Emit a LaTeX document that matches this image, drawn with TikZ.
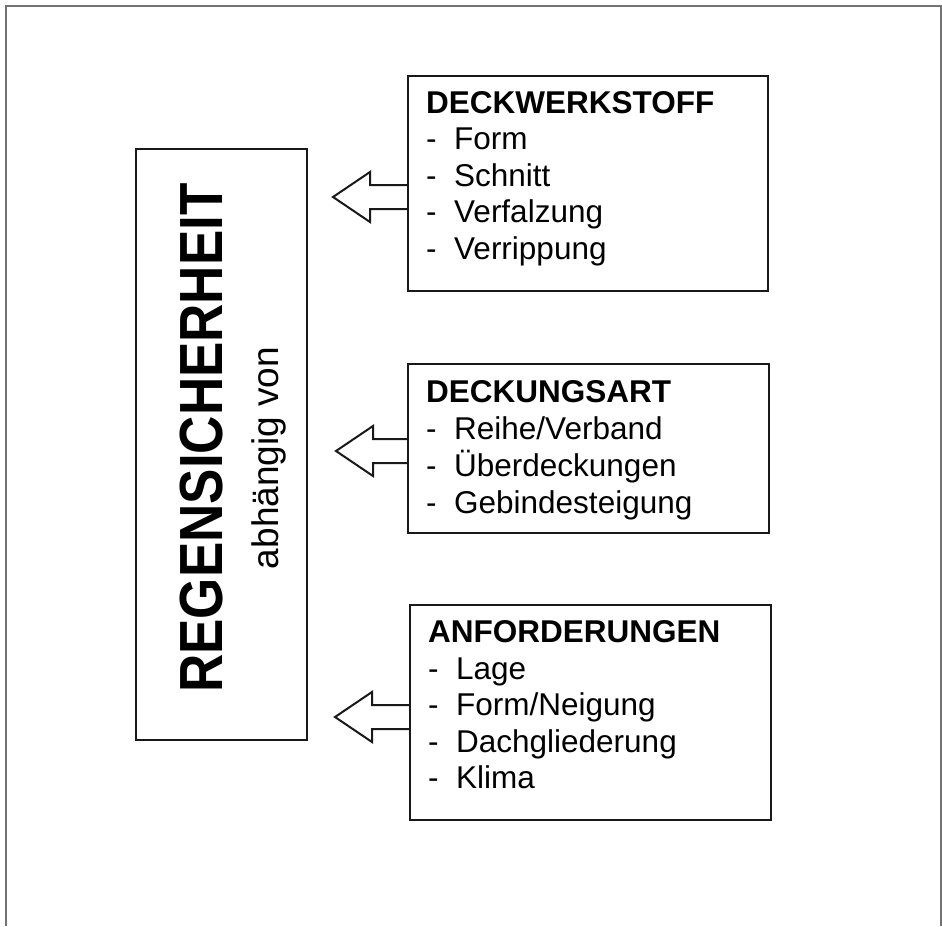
\documentclass[tikz,border=0pt]{standalone}
\usepackage{fontspec}
\setmainfont{Liberation Sans}
\usetikzlibrary{calc}
\newcommand{\itm}[1]{\makebox[28pt][l]{-}#1}
\begin{document}
\begin{tikzpicture}[x=1pt,y=-1pt,
  frame/.style={draw=black!55, line width=1.8pt},
  box/.style={draw=black!90, line width=2.2pt, inner sep=0pt, anchor=north west},
  arr/.style={draw=black!90, line width=2pt, line join=miter},
  ttl/.style={anchor=base west, inner sep=0pt, font=\fontsize{31.5}{36}\selectfont\bfseries},
  item/.style={anchor=base west, inner sep=0pt, font=\fontsize{31.5}{36}\selectfont},
]
\useasboundingbox (0,0) rectangle (942,926);
\fill[white] (0,0) rectangle (942,926);
\draw[frame] (6,926) -- (6,6) -- (941,6) -- (941,926);

% main box
\node[box, minimum width=171pt, minimum height=591pt] (m) at (135,148) {};
\node[rotate=90, inner sep=0pt, font=\fontsize{53}{60}\selectfont\bfseries] (mt) at (202,438) {\scalebox{1}[1.15]{REGENSICHERHEIT}};
\node[rotate=90, inner sep=0pt, anchor=base, font=\fontsize{37}{44}\selectfont] (ms) at (278,458) {abhängig von};

% box 1
\node[box, minimum width=360pt, minimum height=215pt] (b1) at (407,75) {};
\node[ttl] (b1t) at (426,113) {DECKWERKSTOFF};
\node[item] (b1a) at (426,149.5) {\itm{Form}};
\node[item] (b1b) at (426,186) {\itm{Schnitt}};
\node[item] (b1c) at (426,222.5) {\itm{Verfalzung}};
\node[item] (b1d) at (426,259) {\itm{Verrippung}};

% box 2
\node[box, minimum width=361pt, minimum height=169pt] (b2) at (407,363) {};
\node[ttl] (b2t) at (426,402) {DECKUNGSART};
\node[item] (b2a) at (426,439) {\itm{Reihe/Verband}};
\node[item] (b2b) at (426,476) {\itm{Überdeckungen}};
\node[item] (b2c) at (426,513) {\itm{Gebindesteigung}};

% box 3
\node[box, minimum width=361pt, minimum height=215pt] (b3) at (409,604) {};
\node[ttl] (b3t) at (428,642) {ANFORDERUNGEN};
\node[item] (b3a) at (428,679) {\itm{Lage}};
\node[item] (b3b) at (428,715) {\itm{Form/Neigung}};
\node[item] (b3c) at (428,752) {\itm{Dachgliederung}};
\node[item] (b3d) at (428,788) {\itm{Klima}};

% arrows
\coordinate (t1) at (333,197);
\coordinate (t2) at (336,451);
\coordinate (t3) at (335,717);
\foreach \t/\b in {t1/b1,t2/b2,t3/b3}{
  \draw[arr] ($(\t -| \b.west)+(0,-12)$) -| ($(\t)+(37,-25)$) -- (\t) -- ($(\t)+(37,25)$) |- ($(\t -| \b.west)+(0,12)$);
}
\end{tikzpicture}
\end{document}
